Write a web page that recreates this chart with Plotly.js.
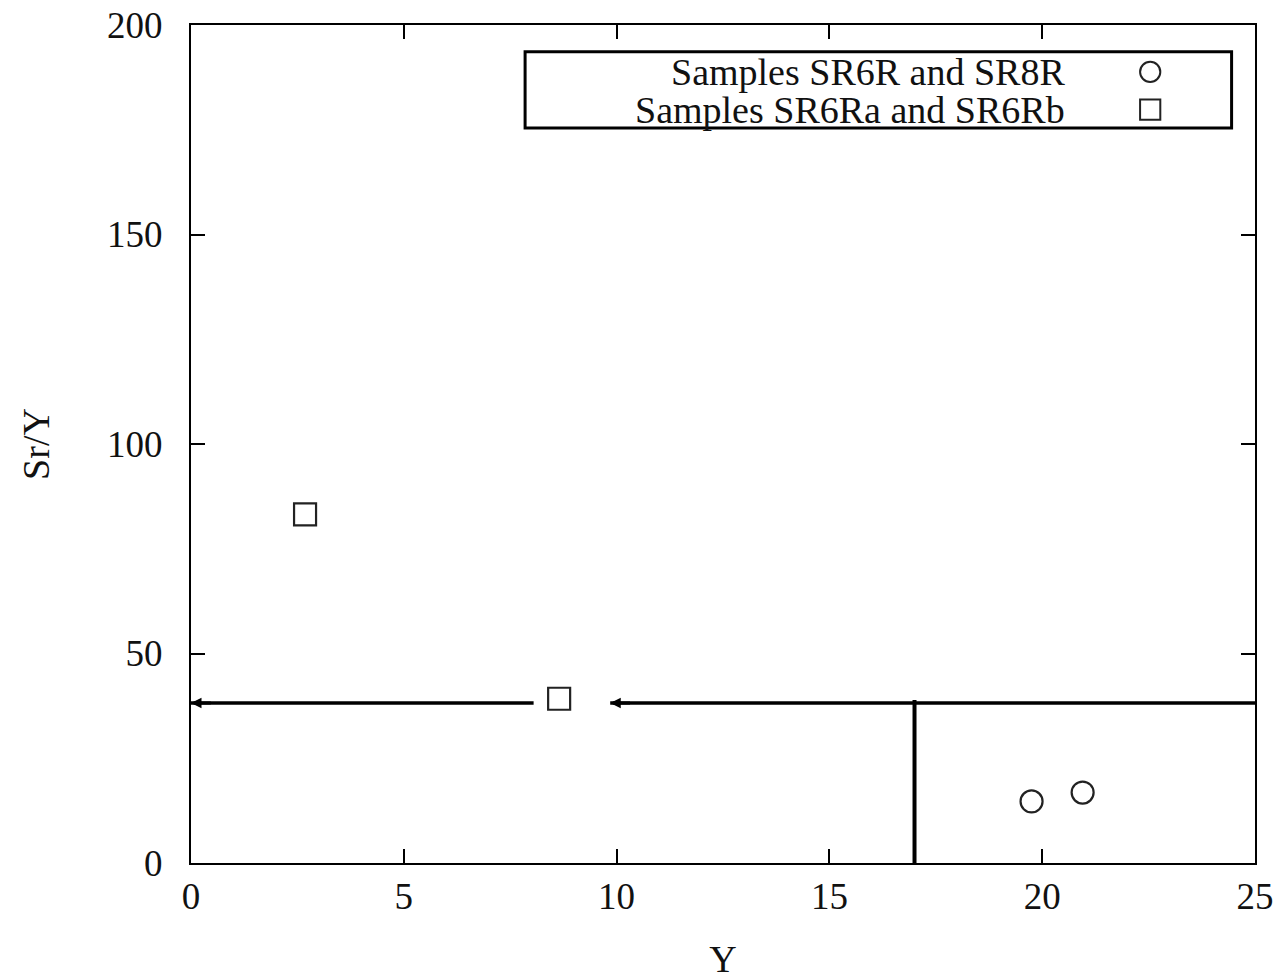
<!DOCTYPE html>
<html><head><meta charset="utf-8">
<script src="https://cdn.plot.ly/plotly-3.0.1.min.js"></script>
<style>html,body{margin:0;padding:0;background:#fff}#plot{width:1283px;height:980px}</style>
</head><body><div id="plot"></div>
<script>
// Data
const seriesNames = ["Samples SR6R and SR8R", "Samples SR6Ra and SR6Rb"];
const circleX = [19.75, 20.95];
const circleY = [14.7, 16.8];
const squareX = [2.68, 8.65];
const squareY = [83.2, 39.2];
// Reference lines (Sr/Y threshold and Y threshold)
const hLineY = 38.2;
const hSeg1X = [0, 8.05];
const hSeg2X = [9.85, 25];
const vLineX = 17.0;
const vLineY = [0, 38.9];
const xTicks = [0, 5, 10, 15, 20, 25];
const yTicks = [0, 50, 100, 150, 200];

const serif = "Liberation Serif, Times New Roman, serif";

const traces = [
  {x: hSeg1X, y: [hLineY, hLineY], mode: "lines", line: {color: "#000", width: 3.5}, showlegend: false, hoverinfo: "skip"},
  {x: hSeg2X, y: [hLineY, hLineY], mode: "lines", line: {color: "#000", width: 3.5}, showlegend: false, hoverinfo: "skip"},
  {x: [vLineX, vLineX], y: vLineY, mode: "lines", line: {color: "#000", width: 4}, showlegend: false, hoverinfo: "skip"},
  {x: circleX, y: circleY, mode: "markers", name: seriesNames[0],
   marker: {symbol: "circle-open", size: 22, color: "#222", line: {width: 2.2, color: "#222"}}, showlegend: false},
  {x: squareX, y: squareY, mode: "markers", name: seriesNames[1],
   marker: {symbol: "square-open", size: 22, color: "#222", line: {width: 2.2, color: "#222"}}, showlegend: false}
];

const axisCommon = {
  showline: true, mirror: "ticks", linecolor: "#000", linewidth: 2,
  ticks: "inside", ticklen: 14, tickwidth: 2, tickcolor: "#000",
  showgrid: false, zeroline: false,
  tickfont: {family: serif, size: 37, color: "#111"}
};

const layout = {
  width: 1283, height: 980,
  margin: {l: 191, r: 28, t: 25, b: 117},
  paper_bgcolor: "#fff", plot_bgcolor: "#fff",
  showlegend: false,
  xaxis: Object.assign({}, axisCommon, {
    range: [0, 25], tickvals: xTicks, ticktext: xTicks.map(String),
    ticklabelstandoff: 0,
    title: {text: "Y", font: {family: serif, size: 38, color: "#111"}, standoff: 34}
  }),
  yaxis: Object.assign({}, axisCommon, {
    range: [0, 200], tickvals: yTicks, ticktext: yTicks.map(String),
    ticklabelstandoff: 19,
    title: {text: "Sr/Y", font: {family: serif, size: 38, color: "#111"}, standoff: 46}
  }),
  shapes: [
    {type: "rect", xref: "paper", yref: "paper", x0: 0.314, x1: 0.978, y0: 0.877, y1: 0.968,
     line: {color: "#000", width: 3}, fillcolor: "#fff", layer: "above"},
    {type: "circle", xref: "paper", yref: "paper", x0: 0.8920, x1: 0.9110, y0: 0.9320, y1: 0.9560,
     line: {color: "#222", width: 2}, layer: "above"},
    {type: "rect", xref: "paper", yref: "paper", x0: 0.8920, x1: 0.9110, y0: 0.8870, y1: 0.9110,
     line: {color: "#222", width: 2}, layer: "above"}
  ],
  annotations: [
    {xref: "paper", yref: "paper", x: 0.8235, y: 0.9440, xanchor: "right", yanchor: "middle",
     text: seriesNames[0], showarrow: false, font: {family: serif, size: 38, color: "#111"}},
    {xref: "paper", yref: "paper", x: 0.8235, y: 0.8990, xanchor: "right", yanchor: "middle",
     text: seriesNames[1], showarrow: false, font: {family: serif, size: 38, color: "#111"}},
    {x: hSeg1X[0], y: hLineY, ax: hSeg1X[0] + 0.5, ay: hLineY, axref: "x", ayref: "y",
     showarrow: true, arrowhead: 2, arrowsize: 0.7, arrowwidth: 3, arrowcolor: "#000", text: ""},
    {x: hSeg2X[0], y: hLineY, ax: hSeg2X[0] + 0.5, ay: hLineY, axref: "x", ayref: "y",
     showarrow: true, arrowhead: 2, arrowsize: 0.7, arrowwidth: 3, arrowcolor: "#000", text: ""}
  ]
};

Plotly.newPlot("plot", traces, layout, {staticPlot: true, displayModeBar: false});
</script></body></html>
